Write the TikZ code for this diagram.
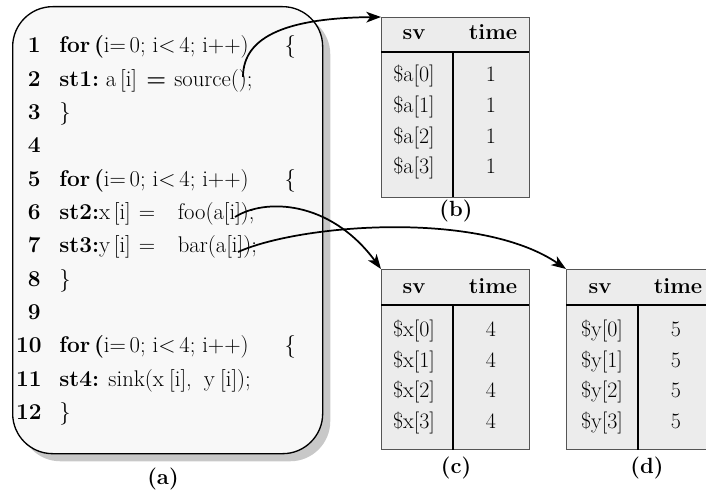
\documentclass[tikz,border=0pt]{standalone}
\usetikzlibrary{arrows.meta}
\definecolor{boxfill}{HTML}{F8F8F8}
\definecolor{shadowc}{HTML}{C8C8C8}
\definecolor{tblfill}{HTML}{ECECEC}
\definecolor{tbldraw}{HTML}{555555}
\begin{document}
\begin{tikzpicture}[x=0.75pt,y=-0.75pt,
  font=\fontsize{16.5}{19}\selectfont,
  codebox/.style={draw=black, line width=1pt, fill=boxfill, rounded corners=30pt, inner sep=0pt},
  shadowbox/.style={draw=none, fill=shadowc, rounded corners=30pt, inner sep=0pt},
  tbl/.style={draw=tbldraw, line width=0.8pt, fill=tblfill, inner sep=0pt, anchor=north west, minimum width=111pt, minimum height=135pt},
  num/.style={anchor=base east, inner sep=0pt, font=\fontsize{17}{19}\selectfont\bfseries},
  txt/.style={anchor=base west, inner sep=0pt, font=\fontsize{17}{19}\selectfont},
  cell/.style={anchor=base, inner sep=0pt},
  hcell/.style={anchor=base, inner sep=0pt, font=\fontsize{16.5}{19}\selectfont\bfseries},
  captxt/.style={anchor=base, inner sep=0pt, font=\fontsize{16.5}{19}\selectfont\bfseries},
  arr/.style={line width=1.3pt, -{Stealth[length=11pt,width=8pt,inset=3pt]}}
]
\clip (0,0) rectangle (706,499);
% code box with shadow
\node[shadowbox, minimum width=232.5pt, minimum height=335.25pt, anchor=north west] (shadow) at (20,14) {};
\node[codebox, minimum width=232.5pt, minimum height=335.25pt, anchor=north west] (code) at (12,6) {};
% line numbers
\node[num] (n1) at (41,53) {1};
\node[num] (n2) at (41,86.3) {2};
\node[num] (n3) at (41,119.6) {3};
\node[num] (n4) at (41,152.9) {4};
\node[num] (n5) at (41,186.2) {5};
\node[num] (n6) at (41,219.5) {6};
\node[num] (n7) at (41,252.8) {7};
\node[num] (n8) at (41,286.1) {8};
\node[num] (n9) at (41,319.4) {9};
\node[num] (n10) at (42,352.7) {10};
\node[num] (n11) at (42,386) {11};
\node[num] (n12) at (42,419.3) {12};
% code text
\node[txt] (l1) at (59,53) {\textbf{for}\,\textbf{(}i=\,0;\ i<\,4;\ i++)\hspace{27pt}\{};
\node[txt] (l2) at (59,86.3) {\textbf{st1:}\ a\,[i]\hspace{7pt}\textbf{=}\hspace{6pt}source();};
\node[txt] (l3) at (59,119.6) {\}};
\node[txt] (l5) at (59,186.2) {\textbf{for}\,\textbf{(}i=\,0;\ i<\,4;\ i++)\hspace{27pt}\{};
\node[txt] (l6) at (59,219.5) {\textbf{st2:}x\,[i]\hspace{6pt}=\hspace{17pt}foo(a[i]);};
\node[txt] (l7) at (59,252.8) {\textbf{st3:}y\,[i]\hspace{6pt}=\hspace{17pt}bar(a[i]);};
\node[txt] (l8) at (59,286.1) {\}};
\node[txt] (l10) at (59,352.7) {\textbf{for}\,\textbf{(}i=\,0;\ i<\,4;\ i++)\hspace{27pt}\{};
\node[txt] (l11) at (59,386) {\textbf{st4:}\hspace{7pt}sink(x\hspace{4pt}[i],\hspace{9pt}y\hspace{4pt}[i]);};
\node[txt] (l12) at (59,419.3) {\}};
\node[captxt] (capa) at (163,484) {(a)};
% table b
\node[tbl] (tb) at (381,17) {};
\draw[line width=0.8pt] (381,52) -- (529,52);
\draw[line width=0.8pt] (453,52) -- (453,197);
\node[hcell] (tbh1) at (414,40) {sv};
\node[hcell] (tbh2) at (493,40) {time};
\node[cell] (tb1) at (414,82) {\$a[0]};
\node[cell] (tb2) at (414,112.5) {\$a[1]};
\node[cell] (tb3) at (414,143) {\$a[2]};
\node[cell] (tb4) at (414,173.5) {\$a[3]};
\node[cell] (tbv1) at (491,82) {1};
\node[cell] (tbv2) at (491,112.5) {1};
\node[cell] (tbv3) at (491,143) {1};
\node[cell] (tbv4) at (491,173.5) {1};
\node[captxt] (capb) at (456,216) {(b)};
% table c
\node[tbl] (tc) at (381,269) {};
\draw[line width=0.8pt] (381,305) -- (529,305);
\draw[line width=0.8pt] (453,305) -- (453,450);
\node[hcell] (tch1) at (414,293) {sv};
\node[hcell] (tch2) at (493,293) {time};
\node[cell] (tc1) at (414,336) {\$x[0]};
\node[cell] (tc2) at (414,367) {\$x[1]};
\node[cell] (tc3) at (414,397.5) {\$x[2]};
\node[cell] (tc4) at (414,428) {\$x[3]};
\node[cell] (tcv1) at (491,336) {4};
\node[cell] (tcv2) at (491,367) {4};
\node[cell] (tcv3) at (491,397.5) {4};
\node[cell] (tcv4) at (491,428) {4};
\node[captxt] (capc) at (456,473) {(c)};
% table d
\node[tbl] (td) at (566,269) {};
\draw[line width=0.8pt] (566,305) -- (714,305);
\draw[line width=0.8pt] (638,305) -- (638,450);
\node[hcell] (tdh1) at (600,293) {sv};
\node[hcell] (tdh2) at (678,293) {time};
\node[cell] (td1) at (602,336) {\$y[0]};
\node[cell] (td2) at (602,367) {\$y[1]};
\node[cell] (td3) at (602,397.5) {\$y[2]};
\node[cell] (td4) at (602,428) {\$y[3]};
\node[cell] (tdv1) at (676,336) {5};
\node[cell] (tdv2) at (676,367) {5};
\node[cell] (tdv3) at (676,397.5) {5};
\node[cell] (tdv4) at (676,428) {5};
\node[captxt] (capd) at (647,473) {(d)};
% arrows
\coordinate (s1) at (243,77);
\coordinate (s2) at (235,217);
\coordinate (s3) at (238,252);
\draw[arr] (s1) .. controls (243,35) and (290,18) .. (tb.north west);
\draw[arr] (s2) .. controls (265,198) and (330,200) .. (tc.north west);
\draw[arr] (s3) .. controls (300,224) and (480,210) .. (td.north west);
\end{tikzpicture}
\end{document}
